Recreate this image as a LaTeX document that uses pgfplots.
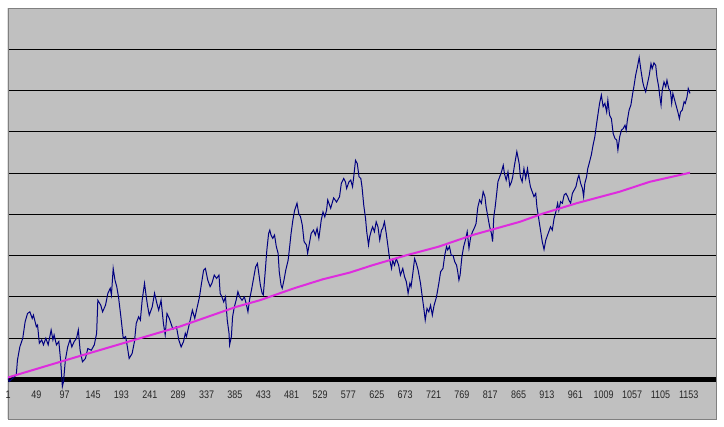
\documentclass[border=0pt]{standalone}
\usepackage{pgfplots}
\pgfplotsset{compat=1.18}
\usepackage{fontspec}
\setmainfont{Liberation Sans}
\newfontfamily\tickfont{Liberation Sans}[FakeStretch=0.82]
\definecolor{bg}{RGB}{192,192,192}
\definecolor{navyl}{RGB}{0,0,128}
\definecolor{magl}{RGB}{222,44,222}
\definecolor{framec}{RGB}{128,128,128}
\begin{document}
\begin{tikzpicture}
\begin{axis}[
  scale only axis, width=708bp, height=411bp,
  xmin=1, xmax=1199, ymin=-0.956, ymax=9,
  axis background/.style={fill=bg},
  axis line style={draw=framec, line width=0.8bp},
  ytick={1,2,3,4,5,6,7,8}, yticklabels={},
  ymajorgrids, grid style={black, line width=1bp},
  major tick length=0pt,
  xtick={1,49,97,145,193,241,289,337,385,433,481,529,577,625,673,721,769,817,865,913,961,1009,1057,1105,1153},
  xticklabels={1,49,97,145,193,241,289,337,385,433,481,529,577,625,673,721,769,817,865,913,961,1009,1057,1105,1153},
  xticklabel style={font=\tickfont\fontsize{11}{12}\selectfont, text=black!85, anchor=base, yshift=21bp},
]
\addplot[black, line width=5bp, forget plot] coordinates {(1,0) (1199,0)};
\addplot[navyl, line width=1bp] table {
x y
1 0.03
3 -0.05
9 0.03
15 0.11
17 0.47
21 0.79
26 1.00
30 1.40
34 1.60
38 1.64
42 1.48
44 1.56
49 1.28
51 1.32
54 0.88
58 0.96
61 0.84
65 1.00
69 0.84
74 1.20
77 0.96
79 1.08
83 0.84
87 0.92
90 0.47
93 -0.17
95 -0.05
98 0.47
102 0.79
106 0.97
109 0.79
113 0.92
117 1.00
120 1.20
123 0.71
127 0.43
132 0.51
136 0.75
142 0.71
147 0.84
151 1.12
153 1.92
158 1.80
161 1.64
166 1.80
170 2.09
174 2.21
176 2.05
179 2.69
182 2.41
185 2.25
188 2.00
192 1.52
196 1.00
200 1.04
203 0.79
206 0.51
211 0.63
215 0.92
218 1.36
222 1.52
225 1.44
228 1.92
232 2.33
235 2.00
237 1.80
240 1.56
245 1.76
249 2.09
253 1.84
256 1.68
260 1.92
264 1.36
267 1.08
270 1.60
274 1.48
280 1.22
286 1.28
290 0.96
294 0.79
298 0.92
301 1.12
303 1.04
308 1.36
313 1.68
317 1.48
320 1.68
325 2.00
328 2.29
332 2.65
335 2.69
339 2.41
343 2.25
346 2.33
350 2.53
354 2.45
358 2.53
360 2.09
363 2.00
366 1.88
369 2.00
372 1.44
375 1.12
376 0.84
379 1.04
381 1.52
384 1.76
387 1.92
390 2.13
393 2.00
397 1.92
401 2.00
404 1.84
407 1.64
410 1.96
413 2.17
416 2.41
420 2.73
423 2.81
425 2.61
428 2.29
431 2.09
433 2.05
436 2.57
439 3.14
442 3.54
444 3.62
446 3.50
449 3.42
452 3.50
455 3.22
458 3.06
460 2.61
463 2.29
465 2.21
468 2.41
471 2.65
475 2.89
477 3.14
480 3.54
483 3.86
486 4.10
490 4.27
493 4.02
496 3.94
499 3.74
502 3.34
506 3.26
508 3.06
511 3.30
514 3.54
518 3.62
521 3.50
524 3.66
527 3.42
531 3.86
534 4.06
537 3.94
540 4.10
542 4.35
547 4.15
552 4.40
557 4.30
562 4.43
565 4.75
569 4.87
572 4.79
574 4.63
578 4.79
581 4.83
584 4.67
586 4.91
589 5.31
592 5.23
595 4.91
598 4.87
600 4.67
603 4.22
606 3.90
608 3.58
611 3.26
613 3.46
616 3.62
618 3.70
621 3.58
624 3.82
627 3.70
630 3.38
633 3.62
635 3.66
638 3.82
641 3.54
644 3.22
647 2.89
650 2.69
652 2.89
655 2.77
658 2.93
662 2.77
665 2.53
669 2.69
672 2.49
675 2.37
678 2.09
681 2.33
683 2.25
686 2.57
689 2.93
692 2.81
695 2.65
699 2.33
702 2.00
705 1.68
707 1.44
710 1.72
713 1.64
716 1.80
719 1.56
722 1.80
726 2.00
730 2.33
733 2.61
737 2.69
740 3.01
743 3.22
745 3.14
748 3.22
751 3.01
754 3.01
757 2.85
760 2.77
762 2.61
764 2.41
766 2.53
769 2.97
772 3.22
775 3.38
778 3.58
781 3.18
784 3.46
787 3.58
791 3.70
793 3.78
796 4.18
799 4.35
802 4.27
805 4.55
808 4.43
810 4.18
813 3.94
816 3.70
819 3.54
821 3.34
823 3.94
825 4.14
827 4.39
830 4.79
833 4.91
836 5.03
839 5.19
841 4.99
844 4.83
847 5.03
850 4.69
853 4.79
855 4.91
858 5.19
862 5.52
866 5.23
868 4.91
871 4.79
874 5.11
877 4.87
880 5.11
883 4.83
885 4.67
888 4.55
891 4.43
894 4.51
896 4.18
899 3.90
902 3.62
905 3.34
908 3.15
911 3.38
914 3.50
916 3.58
919 3.70
922 3.62
925 3.90
928 4.06
931 4.27
933 4.10
936 4.31
939 4.27
942 4.47
945 4.51
948 4.43
950 4.35
953 4.27
956 4.51
959 4.59
962 4.67
965 4.87
967 4.95
970 4.75
973 4.63
975 4.43
977 4.75
980 4.91
982 5.11
985 5.27
988 5.44
991 5.68
994 5.88
997 6.20
999 6.40
1002 6.69
1005 6.89
1008 6.61
1011 6.69
1014 6.48
1016 6.77
1019 6.40
1022 6.32
1025 5.96
1028 5.84
1031 5.80
1033 5.56
1036 5.88
1039 6.04
1042 6.08
1045 6.16
1047 6.04
1049 6.28
1052 6.53
1055 6.65
1058 6.93
1060 7.09
1063 7.37
1066 7.57
1069 7.80
1072 7.49
1075 7.21
1077 7.09
1080 6.97
1083 7.17
1086 7.37
1089 7.65
1091 7.53
1094 7.67
1097 7.61
1099 7.33
1102 7.09
1104 6.85
1106 6.65
1108 7.01
1111 7.21
1114 7.09
1116 7.25
1119 7.05
1122 6.97
1124 6.69
1126 6.93
1129 6.77
1132 6.61
1135 6.45
1137 6.32
1139 6.48
1142 6.53
1145 6.73
1147 6.69
1150 6.85
1152 7.05
1155 6.93
};
\addplot[magl, line width=2bp] table {
x y
1 0.05
99 0.47
139 0.64
291 1.28
387 1.76
427 1.92
485 2.21
534 2.43
579 2.59
618 2.77
675 3.01
730 3.22
787 3.50
867 3.82
906 4.02
963 4.27
1036 4.55
1087 4.79
1155 5.01
};
\draw[black, line width=1bp] (rel axis cs:0,0) -- (rel axis cs:0,1);
\end{axis}
\path (current axis.south west) ++(-8bp,-8bp) coordinate (bl);
\path (current axis.north east) ++(8bp,8bp) coordinate (tr);
\path (bl) rectangle (tr);
\end{tikzpicture}
\end{document}
